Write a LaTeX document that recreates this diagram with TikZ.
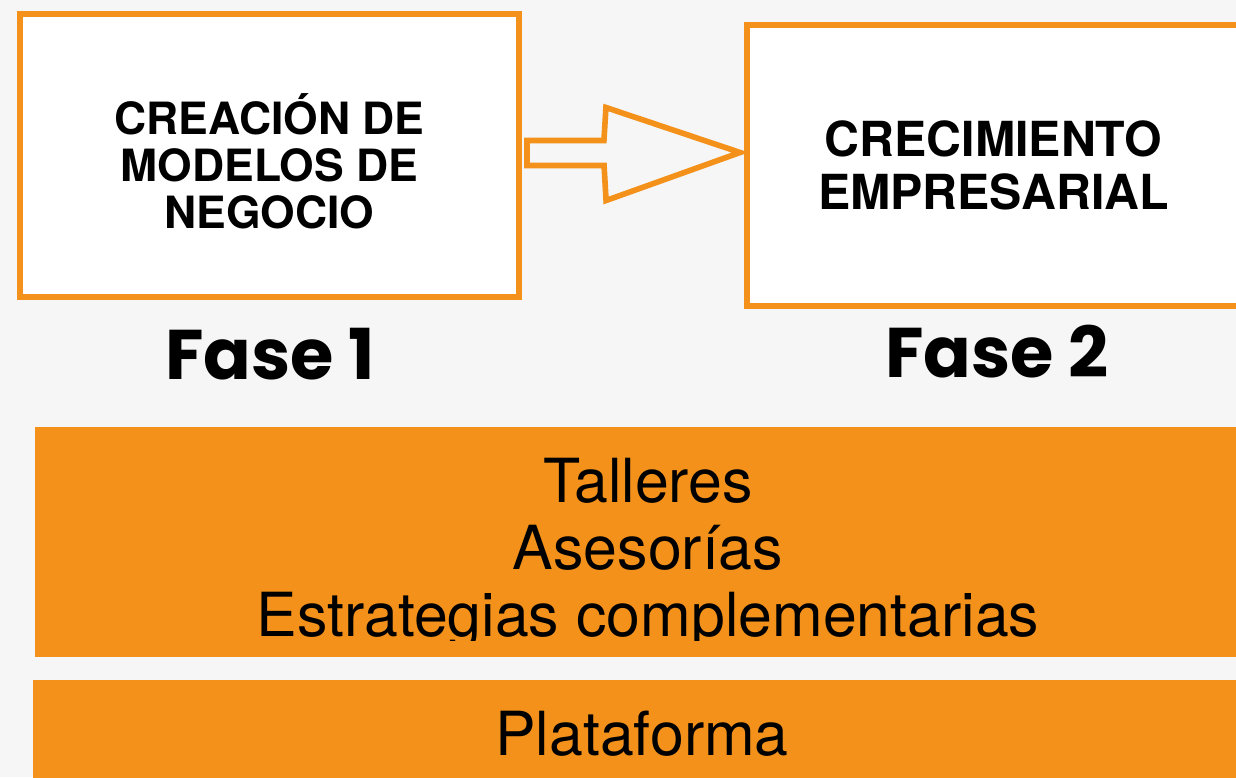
\documentclass[tikz,border=0pt]{standalone}
\usepackage{fontspec}
\setmainfont{TeX Gyre Heros}
\newfontfamily\fasefont{Poppins}
\usetikzlibrary{calc}
\definecolor{naranja}{RGB}{243,145,26}
\definecolor{fondo}{RGB}{246,246,246}

\begin{document}
\begin{tikzpicture}[x=0.02cm, y=-0.02cm,
    fase/.style={draw=naranja, line width=3.4pt, fill=white, align=center,
      font=\bfseries\fontsize{25.3}{26.8}\selectfont},
    franja/.style={fill=naranja, inner sep=0pt, font=\fontsize{34.6}{38.3}\selectfont},
    etiqueta/.style={font=\fasefont\bfseries\fontsize{40}{44}\selectfont},
    bloque/.style={draw=naranja, line width=3.2pt, line join=miter}]
    \fill[fondo] (0,0) rectangle (1236,777);
    \useasboundingbox (0,0) rectangle (1236,777);

    \node[fase, minimum width=9.98cm, minimum height=5.66cm] (crea) at (269.5,155.5) {};
    \node[align=center, font=\bfseries\fontsize{25.3}{26.8}\selectfont] (creatxt)
      at ($(crea.center)+(0,6)$) {CREACIÓN DE\\MODELOS DE\\NEGOCIO};
    \node[fase, minimum width=9.86cm, minimum height=5.62cm,
      font=\bfseries\fontsize{27.5}{30}\selectfont] (crece) at (993.5,165.5)
      {CRECIMIENTO\\EMPRESARIAL};

    \node[etiqueta] (fase1) at (270,354) {Fase 1};
    \node[etiqueta] (fase2) at (997,352) {Fase 2};

    % flecha hueca entre las dos fases
    \coordinate (cola) at ($(crea.east)+(5,-3)$);
    \coordinate (punta) at ($(crece.west |- cola)+(-4,0)$);
    \draw[bloque] ($(cola)+(0,-12)$) -- ++(77,0) -- ++(2,-33) -- (punta)
      -- ($(punta)+(-134,48)$) -- ++(-2,-35) -- ($(cola)+(0,13)$) -- cycle;

    \node[franja, minimum width=24.54cm, minimum height=4.6cm] (talleres) at (648.5,542) {};
    \begin{scope}
      \clip (talleres.north west) rectangle ($(talleres.south east)+(0,-17)$);
      \node[align=center, font=\fontsize{34.6}{38.3}\selectfont] (servicios) at (648,554)
        {Talleres\\Asesorías\\Estrategias complementarias};
    \end{scope}
    \node[franja, minimum width=24.36cm, minimum height=2.16cm] (plataforma) at (642,734)
      {Plataforma};
\end{tikzpicture}
\end{document}
